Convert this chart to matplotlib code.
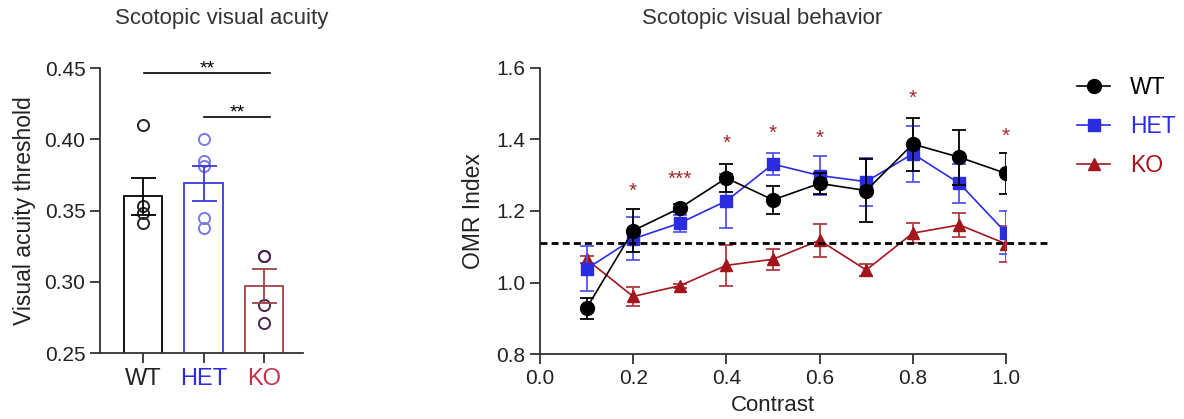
import numpy as np
import matplotlib
matplotlib.use("Agg")
import matplotlib.pyplot as plt
from matplotlib.lines import Line2D

plt.rcParams["font.family"] = ["Liberation Sans", "DejaVu Sans"]

# scotopic visual acuity (left)
groups = ["WT", "HET", "KO"]
acuity_mean = [0.360, 0.369, 0.297]
acuity_sem = [0.013, 0.012, 0.012]
acuity_pts = [
    [0.410, 0.353, 0.348, 0.341],
    [0.400, 0.385, 0.381, 0.345, 0.338],
    [0.318, 0.318, 0.284, 0.271],
]

# scotopic visual behavior (right)
contrast = [0.1, 0.2, 0.3, 0.4, 0.5, 0.6, 0.7, 0.8, 0.9, 1.0]
wt_mean = [0.928, 1.145, 1.208, 1.292, 1.231, 1.277, 1.257, 1.387, 1.350, 1.305]
wt_sem = [0.030, 0.060, 0.012, 0.040, 0.040, 0.030, 0.087, 0.074, 0.077, 0.057]
het_mean = [1.038, 1.122, 1.166, 1.228, 1.331, 1.299, 1.282, 1.360, 1.277, 1.139]
het_sem = [0.063, 0.060, 0.024, 0.075, 0.030, 0.055, 0.067, 0.078, 0.055, 0.060]
ko_mean = [1.065, 0.961, 0.991, 1.048, 1.065, 1.118, 1.035, 1.138, 1.161, 1.108]
ko_sem = [0.010, 0.026, 0.005, 0.058, 0.030, 0.046, 0.018, 0.028, 0.033, 0.050]
chance = 1.111
star_x = [0.2, 0.3, 0.4, 0.5, 0.6, 0.8, 1.0]
star_y = [1.255, 1.288, 1.390, 1.416, 1.402, 1.516, 1.409]
star_txt = ["*", "***", "*", "*", "*", "*", "*"]

c_wt = "black"
c_het = "#2b2be0"
c_ko = "#a3161c"
bar_edge = ["black", "#3a3ad8", "#a3404a"]
pt_col = ["#222222", "#7b7be6", "#4b2450"]
lab_col = ["#222222", "#2b2be0", "#c2304a"]
star_col = "#a3282d"
axis_col = "#333333"

fig = plt.figure(figsize=(11.84, 4.19), dpi=100)

# ---- left panel
ax1 = fig.add_axes([0.0845, 0.1575, 0.1715, 0.68])
xpos = np.arange(len(groups))
for i in range(len(groups)):
    ax1.bar(xpos[i], acuity_mean[i], width=0.63, bottom=0, color="white",
            edgecolor=bar_edge[i], linewidth=1.3, zorder=1)
    ax1.errorbar(xpos[i], acuity_mean[i], yerr=acuity_sem[i], color=bar_edge[i],
                 capsize=9, elinewidth=1.3, capthick=1.3, zorder=3)
    ax1.plot([xpos[i]] * len(acuity_pts[i]), acuity_pts[i], "o", mfc="none",
             mec=pt_col[i], ms=8, mew=1.4, zorder=2)
ax1.set_ylim(0.25, 0.45)
ax1.set_xlim(-0.71, 2.645)
ax1.set_yticks([0.25, 0.30, 0.35, 0.40, 0.45])
ax1.set_yticklabels(["0.25", "0.30", "0.35", "0.40", "0.45"])
ax1.set_xticks(xpos)
ax1.set_xticklabels(groups)
ax1.set_ylabel("Visual acuity threshold", fontsize=16.5, color="#222222", labelpad=6)

# significance bars
ax1.plot([0.02, 2.1], [0.4465, 0.4465], color="black", lw=1.2, clip_on=False)
ax1.text(1.06, 0.4435, "**", ha="center", va="bottom", fontsize=14)
ax1.plot([1.0, 2.1], [0.4155, 0.4155], color="black", lw=1.2, clip_on=False)
ax1.text(1.55, 0.4125, "**", ha="center", va="bottom", fontsize=14)

# ---- right panel
ax2 = fig.add_axes([0.456, 0.155, 0.3937, 0.683])
ax2.errorbar(contrast, wt_mean, yerr=wt_sem, color=c_wt, marker="o", ms=10,
             lw=1.2, capsize=5, elinewidth=1.3, capthick=1.3, zorder=4, label="WT")
ax2.errorbar(contrast, het_mean, yerr=het_sem, color=c_het, marker="s", ms=8,
             lw=1.2, capsize=5, elinewidth=1.3, capthick=1.3, zorder=3, label="HET",
             ecolor="#5555ee")
ax2.errorbar(contrast, ko_mean, yerr=ko_sem, color=c_ko, marker="^", ms=9,
             lw=1.2, capsize=5, elinewidth=1.3, capthick=1.3, zorder=2, label="KO",
             ecolor="#b03a40")
ax2.plot([0.0, 1.09], [chance, chance], color="black", ls=(0, (2.5, 1.5)), lw=2,
         clip_on=False, zorder=5)
for x, y, s in zip(star_x, star_y, star_txt):
    ax2.text(x, y, s, ha="center", va="center", color=star_col, fontsize=15)
ax2.set_xlim(0.0, 1.0)
ax2.set_ylim(0.8, 1.6)
ax2.set_xticks([0.0, 0.2, 0.4, 0.6, 0.8, 1.0])
ax2.set_xticklabels(["0.0", "0.2", "0.4", "0.6", "0.8", "1.0"])
ax2.set_yticks([0.8, 1.0, 1.2, 1.4, 1.6])
ax2.set_yticklabels(["0.8", "1.0", "1.2", "1.4", "1.6"])
ax2.set_xlabel("Contrast", fontsize=16, color="#222222", labelpad=5)
ax2.set_ylabel("OMR Index", fontsize=16.5, color="#222222", labelpad=8)

for ax in (ax1, ax2):
    for side in ("top", "right"):
        ax.spines[side].set_visible(False)
    for side in ("left", "bottom"):
        ax.spines[side].set_color(axis_col)
        ax.spines[side].set_linewidth(1.3)
    ax.tick_params(direction="out", length=7, width=1.3, color=axis_col,
                   labelsize=15, labelcolor="#222222")
ax1.tick_params(axis="x", labelsize=17)
for t, c in zip(ax1.get_xticklabels(), lab_col):
    t.set_color(c)

# titles
fig.text(222 / 1184, 1 - 24 / 419, "Scotopic visual acuity", ha="center",
         va="baseline", fontsize=16, color="#333333")
fig.text(762 / 1184, 1 - 24 / 419, "Scotopic visual behavior", ha="center",
         va="baseline", fontsize=16, color="#333333")

handles = [
    Line2D([], [], color=c_wt, marker="o", ms=10, lw=1.2),
    Line2D([], [], color=c_het, marker="s", ms=8, lw=1.2),
    Line2D([], [], color=c_ko, marker="^", ms=9, lw=1.2),
]
leg = fig.legend(handles, groups, loc="upper left",
                 bbox_to_anchor=(1077 / 1184, 1 - 76 / 419),
                 borderpad=0, borderaxespad=0, frameon=False, fontsize=16.5,
                 handlelength=1.45, labelspacing=0.7, handletextpad=0.85)
for t, c in zip(leg.get_texts(), [c_wt, c_het, c_ko]):
    t.set_color(c)

fig.savefig("out.png", dpi=100)
